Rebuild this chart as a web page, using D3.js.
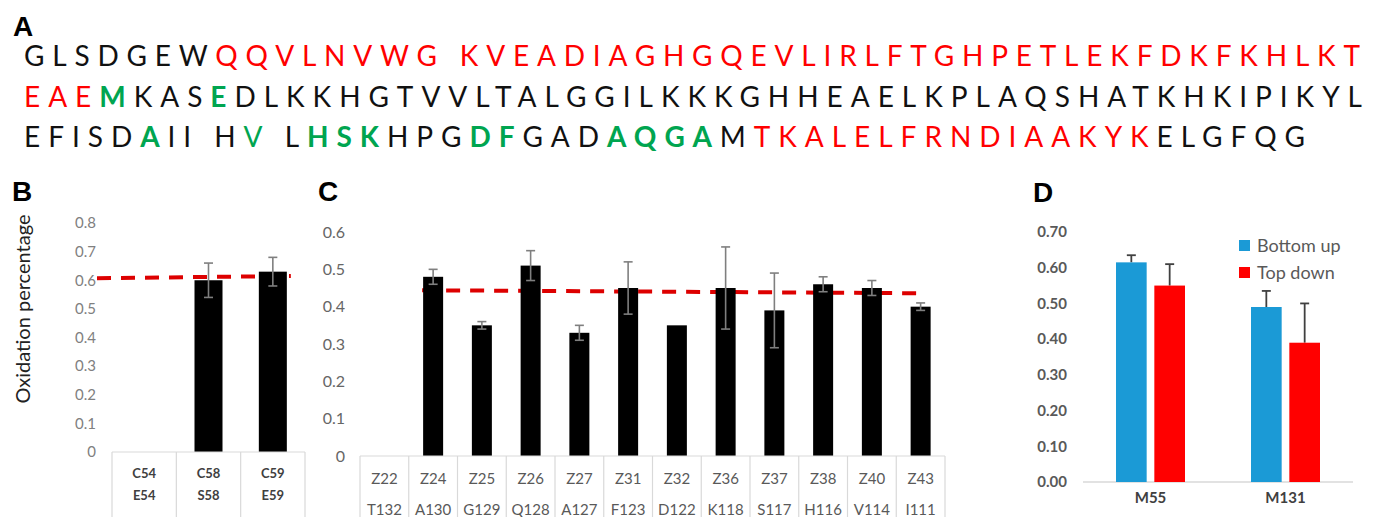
<!DOCTYPE html>
<html>
  <head>
    <meta charset="utf-8">
    <script src="https://cdn.jsdelivr.net/npm/d3@7"></script>
    <style>
      body { margin: 0; background: white; }
      svg { display: block; font-family: Lato, "Open Sans", sans-serif; }
      .panel-label { font-family: "Liberation Sans", Arial, sans-serif; font-weight: bold; font-size: 28px; }
      .seq { font-size: 28px; white-space: pre; }
      .grid-line { stroke: #d9d9d9; stroke-width: 1.2px; }
    </style>
  </head>
  <body>
    <div id="chartcontainer"></div>

    <script type="text/javascript">
      // ---- panel A: sequence rows, [text, style] (k black, r red, g green bold, gn green normal)
      var seqRow1 = [["GLSDGEW", "k"], ["QQVLNVWG KVEADIAGHGQEVLIRLFTGHPETLEKFDKFKHLKT", "r"]];
      var seqRow2 = [["EAE", "r"], ["M", "g"], ["KAS", "k"], ["E", "g"],
                     ["DLKKHGTVVLTALGGILKKKGHHEAELKPLAQSHATKHKIPIKYL", "k"]];
      var seqRow3 = [["EFISD", "k"], ["A", "g"], ["II H", "k"], ["V", "gn"], [" L", "k"], ["HSK", "g"],
                     ["HPG", "k"], ["DF", "g"], ["GAD", "k"], ["AQGA", "g"], ["M", "k"],
                     ["TKALELFRNDIAAKYK", "r"], ["ELGFQG", "k"]];

      // ---- panel B
      var bTop = ["C54", "C58", "C59"];
      var bBottom = ["E54", "S58", "E59"];
      var bValues = [null, 0.60, 0.63];
      var bErrors = [null, 0.06, 0.05];
      var bTrend = [0.607, 0.615];
      var bTicks = [0, 0.1, 0.2, 0.3, 0.4, 0.5, 0.6, 0.7, 0.8];

      // ---- panel C
      var cTop = ["Z22", "Z24", "Z25", "Z26", "Z27", "Z31", "Z32", "Z36", "Z37", "Z38", "Z40", "Z43"];
      var cBottom = ["T132", "A130", "G129", "Q128", "A127", "F123", "D122", "K118", "S117", "H116", "V114", "I111"];
      var cValues = [null, 0.48, 0.35, 0.51, 0.33, 0.45, 0.35, 0.45, 0.39, 0.46, 0.45, 0.40];
      var cErrors = [null, 0.02, 0.01, 0.04, 0.02, 0.07, 0, 0.11, 0.10, 0.02, 0.02, 0.01];
      var cTrend = [0.444, 0.436];
      var cTicks = [0, 0.1, 0.2, 0.3, 0.4, 0.5, 0.6];

      // ---- panel D
      var dCategories = ["M55", "M131"];
      var dSeries = ["Bottom up", "Top down"];
      var dColors = ["#1b9ad6", "#ff0000"];
      var dValues = [[0.615, 0.55], [0.49, 0.39]];   // [category][series]
      var dErrors = [[0.02, 0.06], [0.045, 0.11]];
      var dTicks = [0, 0.1, 0.2, 0.3, 0.4, 0.5, 0.6, 0.7];

      var svg = d3.select("#chartcontainer").append("svg")
          .attr("width", 1380).attr("height", 517);

      var seqColors = { k: "#111", r: "#ff0000", g: "#00a550", gn: "#00a550" };

      // Panel A
      svg.append("text").attr("class", "panel-label").attr("x", 13).attr("y", 36).text("A");

      function seqRow(row, y, len) {
          var t = svg.append("text").attr("class", "seq")
              .attr("x", 24).attr("y", y)
              .attr("textLength", len).attr("lengthAdjust", "spacing");
          row.forEach(function(seg) {
              t.append("tspan")
               .style("fill", seqColors[seg[1]])
               .style("font-weight", seg[1] === "g" ? 700 : 400)
               .text(seg[0]);
          });
      }
      seqRow(seqRow1, 66, 1336);
      seqRow(seqRow2, 107, 1338);
      seqRow(seqRow3, 147, 1281);

      // shared drawing for the black bar panels (B and C)
      function barPanel(o) {
          var x = d3.scaleBand().domain(o.top).range(o.xRange);
          var y = d3.scaleLinear().domain([0, o.ticks[o.ticks.length - 1]]).range(o.yRange);
          var g = svg.append("g");

          // y tick labels
          g.append("g")
           .attr("transform", "translate(" + o.tickX + ",0)")
           .call(d3.axisLeft(y).tickValues(o.ticks).tickSize(0).tickPadding(0).tickFormat(o.fmt))
           .call(function(a) { a.select(".domain").remove(); })
           .selectAll("text")
           .style("font-family", "Lato, sans-serif")
           .style("font-size", o.tickSize + "px")
           .style("fill", o.tickColor);

          // dashed trend line behind the bars
          g.append("line")
           .attr("x1", o.trendX[0](x)).attr("x2", o.trendX[1](x))
           .attr("y1", y(o.trend[0])).attr("y2", y(o.trend[1]))
           .style("stroke", "#dd0000").style("stroke-width", 4)
           .style("stroke-dasharray", "14,10");

          var bw = o.barWidth;
          var idx = d3.range(o.top.length).filter(function(i) { return o.values[i] != null; });

          g.selectAll(".bar").data(idx).enter().append("rect")
           .attr("x", function(i) { return x(o.top[i]) + x.bandwidth() / 2 - bw / 2; })
           .attr("width", bw)
           .attr("y", function(i) { return y(o.values[i]); })
           .attr("height", function(i) { return y(0) - y(o.values[i]); })
           .style("fill", "#000");

          // error bars
          var eb = g.selectAll(".err").data(idx.filter(function(i) { return o.errors[i] > 0; }))
           .enter().append("g").style("stroke", "#7f7f7f").style("stroke-width", 1.6);
          var cx = function(i) { return x(o.top[i]) + x.bandwidth() / 2; };
          eb.append("line")
            .attr("x1", cx).attr("x2", cx)
            .attr("y1", function(i) { return y(o.values[i] + o.errors[i]); })
            .attr("y2", function(i) { return y(o.values[i] - o.errors[i]); });
          [1, -1].forEach(function(s) {
              eb.append("line")
                .attr("x1", function(i) { return cx(i) - 4.5; })
                .attr("x2", function(i) { return cx(i) + 4.5; })
                .attr("y1", function(i) { return y(o.values[i] + s * o.errors[i]); })
                .attr("y2", function(i) { return y(o.values[i] + s * o.errors[i]); });
          });

          // category table under the axis
          var y0 = y(0);
          g.append("line").attr("class", "grid-line")
           .attr("x1", o.xRange[0]).attr("x2", o.xRange[1]).attr("y1", y0).attr("y2", y0);
          g.selectAll(".vline").data(o.top.concat(["_end"])).enter().append("line")
           .attr("class", "grid-line")
           .attr("x1", function(d, i) { return o.xRange[0] + i * x.step(); })
           .attr("x2", function(d, i) { return o.xRange[0] + i * x.step(); })
           .attr("y1", y0).attr("y2", 517);
          [o.top, o.bottom].forEach(function(labels, r) {
              g.selectAll(".lab" + r).data(labels).enter().append("text")
               .attr("x", function(d, i) { return x(o.top[i]) + x.bandwidth() / 2; })
               .attr("y", o.labelY[r])
               .attr("text-anchor", "middle")
               .style("font-size", o.labelSize + "px")
               .style("font-weight", o.labelWeight)
               .style("fill", o.labelColor)
               .text(function(d) { return d; });
          });
      }

      // Panel B
      svg.append("text").attr("class", "panel-label").attr("x", 12).attr("y", 201).text("B");
      svg.append("text")
         .attr("transform", "translate(30,309) rotate(-90)")
         .attr("text-anchor", "middle")
         .style("font-size", "20px").style("fill", "#222")
         .text("Oxidation percentage");
      barPanel({
          top: bTop, bottom: bBottom, values: bValues, errors: bErrors, ticks: bTicks, trend: bTrend,
          xRange: [112, 305], yRange: [452, 223], tickX: 96, tickSize: 15, tickColor: "#808080",
          fmt: function(d) { return d === 0 ? "0" : d3.format(".1f")(d); },
          barWidth: 28, labelY: [478, 500], labelSize: 13, labelWeight: 700, labelColor: "#404040",
          trendX: [function(x) { return x.range()[0] - 15; },
                   function(x) { return x("C59") + x.bandwidth() / 2 + 18; }]
      });

      // Panel C
      svg.append("text").attr("class", "panel-label").attr("x", 318).attr("y", 201).text("C");
      barPanel({
          top: cTop, bottom: cBottom, values: cValues, errors: cErrors, ticks: cTicks, trend: cTrend,
          xRange: [360, 945], yRange: [456, 232], tickX: 345, tickSize: 16, tickColor: "#666",
          fmt: function(d) { return d === 0 ? "0" : d3.format(".1f")(d); },
          barWidth: 20, labelY: [484, 515], labelSize: 15, labelWeight: 400, labelColor: "#595959",
          trendX: [function(x) { return x("Z24") + x.bandwidth() / 2 - 11; },
                   function(x) { return x("Z43") + x.bandwidth() / 2 - 2; }]
      });

      // Panel D
      svg.append("text").attr("class", "panel-label").attr("x", 1033).attr("y", 202).text("D");
      var dx = d3.scaleBand().domain(dCategories).range([1083, 1353]);
      var dxs = d3.scaleBand().domain(dSeries).range([-34.5, 34.5]).paddingInner(0.2);
      var dy = d3.scaleLinear().domain([0, 0.7]).range([482, 232]);
      var dg = svg.append("g");

      dg.append("g")
        .attr("transform", "translate(1067,0)")
        .call(d3.axisLeft(dy).tickValues(dTicks).tickSize(0).tickPadding(0).tickFormat(d3.format(".2f")))
        .call(function(a) { a.select(".domain").remove(); })
        .selectAll("text")
        .style("font-family", "Lato, sans-serif").style("font-size", "15px")
        .style("font-weight", 700).style("fill", "#595959");

      dg.append("line").attr("x1", 1083).attr("x2", 1353).attr("y1", dy(0)).attr("y2", dy(0))
        .style("stroke", "#d9d9d9").style("stroke-width", 1.5);

      var groups = dg.selectAll(".grp").data(dCategories).enter().append("g")
        .attr("transform", function(d) { return "translate(" + (dx(d) + dx.bandwidth() / 2) + ",0)"; });

      groups.each(function(cat, ci) {
          var grp = d3.select(this);
          dSeries.forEach(function(s, si) {
              var v = dValues[ci][si], e = dErrors[ci][si];
              var bx = dxs(s), bw = dxs.bandwidth();
              grp.append("line")
                 .attr("x1", bx + bw / 2).attr("x2", bx + bw / 2)
                 .attr("y1", dy(v)).attr("y2", dy(v + e))
                 .style("stroke", "#404040").style("stroke-width", 1.8);
              grp.append("line")
                 .attr("x1", bx + bw / 2 - 4.5).attr("x2", bx + bw / 2 + 4.5)
                 .attr("y1", dy(v + e)).attr("y2", dy(v + e))
                 .style("stroke", "#404040").style("stroke-width", 1.8);
              grp.append("rect")
                 .attr("x", bx).attr("width", bw)
                 .attr("y", dy(v)).attr("height", dy(0) - dy(v))
                 .style("fill", dColors[si]);
          });
          grp.append("text").attr("y", 503).attr("text-anchor", "middle")
             .style("font-size", "15px").style("font-weight", 700).style("fill", "#404040")
             .text(cat);
      });

      // legend
      var leg = dg.selectAll(".leg").data(dSeries).enter().append("g")
        .attr("transform", function(d, i) { return "translate(1239," + (240 + i * 27) + ")"; });
      leg.append("rect").attr("width", 11).attr("height", 11)
         .style("fill", function(d, i) { return dColors[i]; });
      leg.append("text").attr("x", 18).attr("y", 12)
         .style("font-size", "18px").style("fill", "#595959")
         .text(function(d) { return d; });
    </script>
  </body>
</html>
